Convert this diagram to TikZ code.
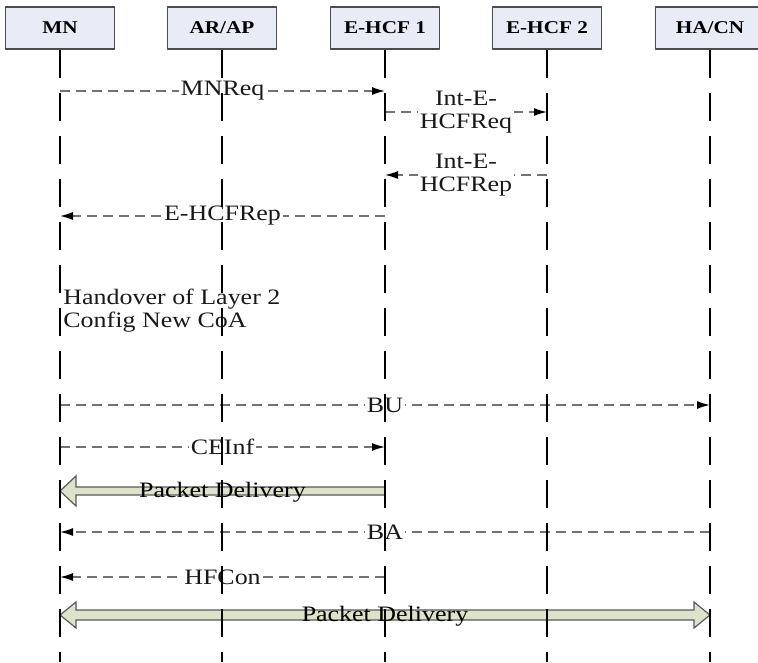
\documentclass[tikz,border=0pt]{standalone}
\usepackage{fontspec}
\setmainfont[FakeStretch=1.18]{Liberation Serif}
\usetikzlibrary{arrows.meta,calc}
\definecolor{boxfill}{HTML}{E8ECF6}
\definecolor{pipefill}{HTML}{DCE3CA}
\tikzset{
  entity/.style={draw=black!70, fill=boxfill, line width=0.8pt, minimum width=54.5pt,
    minimum height=21pt, inner sep=0pt, font=\fontsize{9}{10}\selectfont\bfseries},
  lifeline/.style={line width=1pt, dash pattern=on 14pt off 7.5pt},
  msg/.style={draw=black!55, line width=0.7pt, dash pattern=on 5pt off 3pt,
    -{Latex[length=6.5pt,width=4pt,color=black]}},
  lbl/.style={fill=white, inner sep=0.8pt, text=black!90, align=center},
  pipe/.style={draw=black!65, fill=pipefill, line width=0.6pt, line join=miter},
}
\begin{document}
\begin{tikzpicture}[x=0.5pt, y=-0.5pt, font=\fontsize{11}{11.5}\selectfont, line join=round]
  \useasboundingbox (0,0) rectangle (758,662);
  % entities
  \foreach \x/\n/\t in {60/mn/MN, 222/arap/{AR/AP}, 385/hcfa/E-HCF 1, 547/hcfb/E-HCF 2, 710/hacn/{HA/CN}}
    \node[entity] (\n) at (\x,28) {\t};
  % messages
  \draw[msg] (mn |- 0,91) -- node[lbl] {MNReq} (hcfa |- 0,91);
  \draw[msg] (hcfa |- 0,112) -- node[lbl] {Int-E-\\HCFReq} (hcfb |- 0,112);
  \draw[msg] (hcfb |- 0,175) -- node[lbl] {Int-E-\\HCFRep} (hcfa |- 0,175);
  \draw[msg] (hcfa |- 0,216) -- node[lbl] {E-HCFRep} (mn |- 0,216);
  \node[anchor=west, align=left, inner sep=0pt, text=black!90] (ho) at (63,311) {Handover of Layer 2\\Config New CoA};
  \draw[msg] (mn |- 0,405) -- node[lbl] {BU} (hacn |- 0,405);
  \draw[msg] (mn |- 0,447) -- node[lbl] {CEInf} (hcfa |- 0,447);
  % packet delivery, one way
  \draw[pipe] (hcfa |- 0,487) -| ($(mn |- 0,476)+(16,0)$) -- (mn |- 0,491)
    -- ($(mn |- 0,506)+(16,0)$) |- (hcfa |- 0,495) -- cycle;
  \node (pd1) at ($(mn |- 0,492)!0.5!(hcfa |- 0,492)$) {Packet Delivery};
  \draw[msg] (hacn |- 0,532) -- node[lbl] {BA} (mn |- 0,532);
  \draw[msg] (hcfa |- 0,577) -- node[lbl] {HFCon} (mn |- 0,577);
  % packet delivery, both ways
  \draw[pipe] (mn |- 0,615) -- ($(mn |- 0,602)+(16,0)$) |- ($(hacn |- 0,610)+(-16,0)$)
    -- ($(hacn |- 0,602)+(-16,0)$) -- (hacn |- 0,615) -- ($(hacn |- 0,628)+(-16,0)$)
    -- ($(hacn |- 0,620)+(-16,0)$) -| ($(mn |- 0,628)+(16,0)$) -- cycle;
  \node (pd2) at ($(mn |- 0,616)!0.5!(hacn |- 0,616)$) {Packet Delivery};
  % lifelines
  \foreach \n in {mn,arap,hcfa,hcfb,hacn}
    \draw[lifeline] (\n.south) -- (\n.south |- 0,662);
\end{tikzpicture}
\end{document}
